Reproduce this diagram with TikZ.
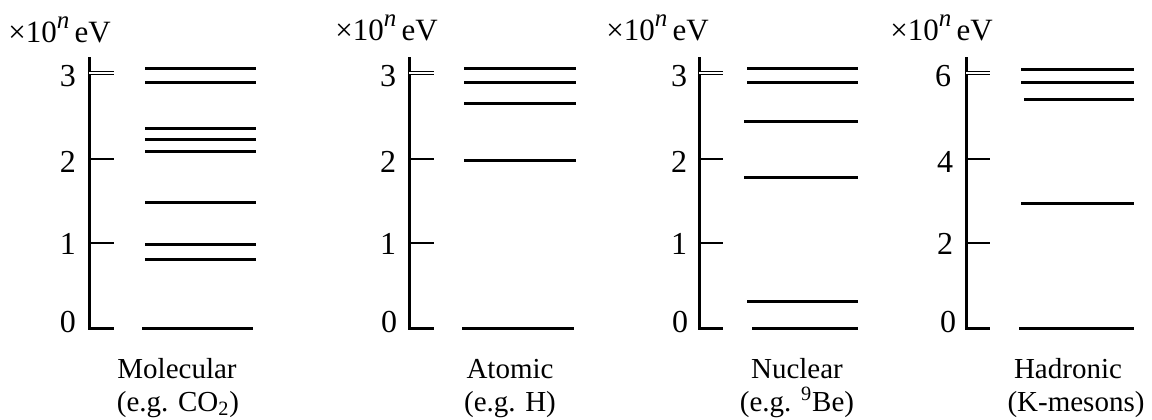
\documentclass[tikz,border=0pt]{standalone}
\usepackage{fontspec}
\setmainfont{Liberation Serif}
\begin{document}
\begin{tikzpicture}[x=0.5pt,y=-0.5pt,
  ax/.style={line width=1.5pt},
  tk/.style={line width=1.4pt},
  toptk/.style={double, line width=0.45pt, double distance=0.7pt},
  lvl/.style={line width=1.5pt},
  txt/.style={font=\fontsize{14.5}{17}\selectfont, inner sep=0pt},
  num/.style={font=\fontsize{16}{18}\selectfont, inner sep=0pt},
  unit/.style={font=\fontsize{15.5}{18}\selectfont, inner sep=0pt, anchor=base west},
  title/.style={txt, anchor=base}]
\useasboundingbox (0,0) rectangle (1152,419);
\newcommand{\unitlabel}{×10\raisebox{0.45em}{\fontsize{12.5}{14}\selectfont\itshape n}\,eV}
% ---------- Panel 1: Molecular ----------
\coordinate (a1t) at (89,57);
\coordinate (a1b) at (89,328);
\draw[ax] (a1t) -- (a1b) -- ++(25,0);
\draw[toptk] (89,73) -- (114,73);
\foreach \y in {159,243} \draw[tk] (89,\y) -- (114,\y);
\node[num] (n13) at (68,76) {3};
\node[num] (n12) at (68,162) {2};
\node[num] (n11) at (68,244) {1};
\node[num] (n10) at (68,322) {0};
\foreach \y in {68,82,128,139,151,202,244,259} \draw[lvl] (145,\y) -- (256,\y);
\draw[lvl] (142,328) -- (253,328);
\node[unit] (t1) at (8,42) {\unitlabel};
\node[title] (l1a) at (177,378) {Molecular};
\node[title] (l1b) at (178,411) {(e.g. CO\textsubscript{2})};
% ---------- Panel 2: Atomic ----------
\coordinate (a2t) at (409,57);
\coordinate (a2b) at (409,328);
\draw[ax] (a2t) -- (a2b) -- ++(25,0);
\draw[toptk] (409,73) -- (434,73);
\foreach \y in {159,243} \draw[tk] (409,\y) -- (434,\y);
\node[num] (n23) at (388,76) {3};
\node[num] (n22) at (388,162) {2};
\node[num] (n21) at (388,244) {1};
\node[num] (n20) at (389,322) {0};
\foreach \y in {68,82,103,160} \draw[lvl] (464,\y) -- (576,\y);
\draw[lvl] (462,328) -- (574,328);
\node[unit] (t2) at (335,40) {\unitlabel};
\node[title] (l2a) at (510,378) {Atomic};
\node[title] (l2b) at (510,411) {(e.g. H)};
% ---------- Panel 3: Nuclear ----------
\coordinate (a3t) at (699,57);
\coordinate (a3b) at (699,328);
\draw[ax] (a3t) -- (a3b) -- ++(24,0);
\draw[toptk] (699,73) -- (723,73);
\foreach \y in {159,243} \draw[tk] (699,\y) -- (723,\y);
\node[num] (n33) at (679,76) {3};
\node[num] (n32) at (679,162) {2};
\node[num] (n31) at (679,244) {1};
\node[num] (n30) at (680,322) {0};
\foreach \y in {68,82} \draw[lvl] (747,\y) -- (858,\y);
\draw[lvl] (744,121) -- (858,121);
\draw[lvl] (744,177) -- (858,177);
\draw[lvl] (747,301) -- (858,301);
\draw[lvl] (752,328) -- (858,328);
\node[unit] (t3) at (606,40) {\unitlabel};
\node[title] (l3a) at (797,378) {Nuclear};
\node[title] (l3b) at (797,411) {(e.g. \textsuperscript{9}Be)};
% ---------- Panel 4: Hadronic ----------
\coordinate (a4t) at (966,57);
\coordinate (a4b) at (966,328);
\draw[ax] (a4t) -- (a4b) -- ++(24,0);
\draw[toptk] (966,73) -- (990,73);
\foreach \y in {159,243} \draw[tk] (966,\y) -- (990,\y);
\node[num] (n46) at (943,76) {6};
\node[num] (n44) at (945,162) {4};
\node[num] (n42) at (945,244) {2};
\node[num] (n40) at (948,322) {0};
\foreach \y in {69,82} \draw[lvl] (1021,\y) -- (1134,\y);
\draw[lvl] (1024,99) -- (1134,99);
\draw[lvl] (1021,203) -- (1134,203);
\draw[lvl] (1019,328) -- (1134,328);
\node[unit] (t4) at (890,40) {\unitlabel};
\node[title] (l4a) at (1068,378) {Hadronic};
\node[title] (l4b) at (1076,411) {(K-mesons)};
\end{tikzpicture}
\end{document}
